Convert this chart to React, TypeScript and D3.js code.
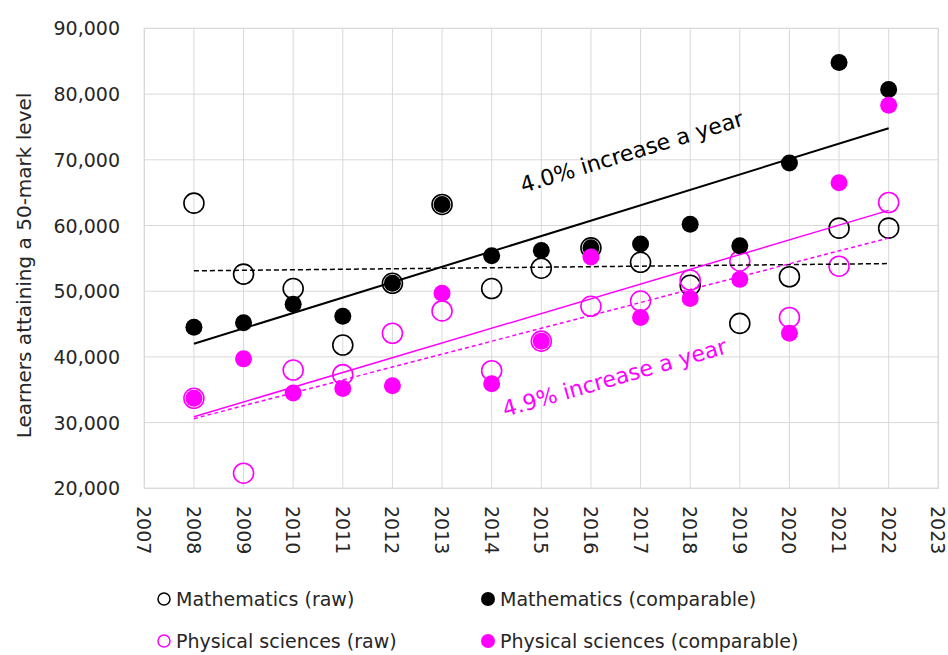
import React from "react";
import * as d3 from "d3";

const years = [2008, 2009, 2010, 2011, 2012, 2013, 2014, 2015, 2016, 2017, 2018, 2019, 2020, 2021, 2022];
const mathRaw = [63400, 52600, 50400, 41800, 51200, 63200, 50400, 53500, 56600, 54400, 50900, 45100, 52200, 59600, 59600];
const mathComp = [44500, 45200, 48000, 46200, 51200, 63200, 55400, 56200, 56600, 57200, 60200, 56900, 69500, 84800, 80700];
const physRaw = [33700, 22300, 38000, 37300, 43600, 47000, 37900, 42400, 47700, 48500, 51700, 54600, 46000, 53800, 63500];
const physComp = [33700, 39700, 34500, 35200, 35600, 49700, 35900, 42400, 55200, 46000, 48900, 51800, 43600, 66500, 78300];

const trendYears = [2008, 2022];
const trendMathComp = [42000, 74800];
const trendMathRaw = [53100, 54200];
const trendPhysComp = [30900, 62300];
const trendPhysRaw = [30600, 58100];

const xTicks = d3.range(2007, 2024);
const yTicks = [20000, 30000, 40000, 50000, 60000, 70000, 80000, 90000];

const MAG = "#ff00ff";
const GRID = "#d9d9d9";
const FONT = "DejaVu Sans";

export default function App() {
  const W = 948, H = 655;
  const x = d3.scaleLinear().domain([2007, 2023]).range([144.3, 938.3]);
  const y = d3.scaleLinear().domain([20000, 90000]).range([488.3, 28.4]);
  const fmt = d3.format(",");
  const line = d3.line<[number, number]>().x(d => x(d[0])).y(d => y(d[1]));
  const tl = (vals: number[]) => line(trendYears.map((yr, i) => [yr, vals[i]] as [number, number])) || "";

  const openPts = (vals: number[], color: string, key: string) =>
    vals.map((v, i) => (
      <circle key={key + i} cx={x(years[i])} cy={y(v)} r={10} fill="none" stroke={color} strokeWidth={1.6} />
    ));
  const fillPts = (vals: number[], color: string, key: string) =>
    vals.map((v, i) => <circle key={key + i} cx={x(years[i])} cy={y(v)} r={8.5} fill={color} />);

  return (
    <svg width={W} height={H} style={{ position: "absolute", left: 0, top: 0, background: "#fff" }} fontFamily={FONT}>
      <rect width={W} height={H} fill="#fff" />
      {xTicks.map(t => (
        <line key={"gx" + t} x1={x(t)} x2={x(t)} y1={y(90000)} y2={y(20000)} stroke={GRID} strokeWidth={1} />
      ))}
      {yTicks.map(t => (
        <line key={"gy" + t} x1={x(2007)} x2={x(2023)} y1={y(t)} y2={y(t)} stroke={GRID} strokeWidth={1} />
      ))}
      <rect x={x(2007)} y={y(90000)} width={x(2023) - x(2007)} height={y(20000) - y(90000)} fill="none" stroke={GRID} strokeWidth={1.2} />

      {yTicks.map(t => (
        <text key={"ty" + t} x={120} y={y(t)} textAnchor="end" dominantBaseline="central" fontSize={19} fill="#262626">
          {fmt(t)}
        </text>
      ))}
      {xTicks.map(t => (
        <text key={"tx" + t} transform={`translate(${x(t)},506) rotate(90)`} textAnchor="start" dominantBaseline="central" fontSize={19} fill="#262626">
          {t}
        </text>
      ))}
      <text transform="translate(31,265.5) rotate(-90)" textAnchor="middle" fontSize={20} fill="#262626">
        Learners attaining a 50-mark level
      </text>

      {openPts(mathRaw, "#000", "mr")}
      {openPts(physRaw, MAG, "pr")}
      {fillPts(mathComp, "#000", "mc")}
      {fillPts(physComp, MAG, "pc")}

      <path d={tl(trendMathRaw)} stroke="#000" strokeWidth={1.5} strokeDasharray="5,3" fill="none" />
      <path d={tl(trendMathComp)} stroke="#000" strokeWidth={2} fill="none" />
      <path d={tl(trendPhysRaw)} stroke={MAG} strokeWidth={1.5} strokeDasharray="4,3" fill="none" />
      <path d={tl(trendPhysComp)} stroke={MAG} strokeWidth={1.5} fill="none" />

      <text transform="translate(523,193) rotate(-17)" fontSize={22} fill="#000">4.0% increase a year</text>
      <text transform="translate(505,417) rotate(-16)" fontSize={22} fill={MAG}>4.9% increase a year</text>

      <g fontSize={19} fill="#262626">
        <circle cx={164} cy={599} r={6} fill="none" stroke="#000" strokeWidth={1.5} />
        <text x={176} y={599} dominantBaseline="central">Mathematics (raw)</text>
        <circle cx={488} cy={599} r={7} fill="#000" />
        <text x={500} y={599} dominantBaseline="central">Mathematics (comparable)</text>
        <circle cx={164} cy={641} r={6} fill="none" stroke={MAG} strokeWidth={1.5} />
        <text x={176} y={641} dominantBaseline="central">Physical sciences (raw)</text>
        <circle cx={488} cy={641} r={7} fill={MAG} />
        <text x={500} y={641} dominantBaseline="central">Physical sciences (comparable)</text>
      </g>
    </svg>
  );
}
